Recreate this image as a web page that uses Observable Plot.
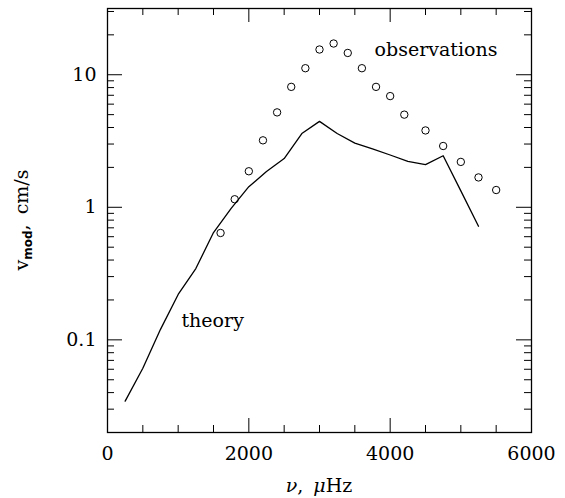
<!DOCTYPE html>
<html><head><meta charset="utf-8">
<script src="https://cdn.jsdelivr.net/npm/d3@7"></script>
<script src="https://cdn.jsdelivr.net/npm/@observablehq/plot@0.6"></script>
<style>body{margin:0;background:#fff} #chart svg{display:block}</style>
</head><body><div id="chart"></div>
<script>
// Observations (open circles)
const obsNu = [1600,1800,2000,2200,2400,2600,2800,3000,3200,3400,3600,3800,4000,4200,4500,4750,5000,5250,5500];
const obsV  = [0.64,1.15,1.87,3.2,5.2,8.1,11.2,15.5,17.2,14.6,11.2,8.1,6.9,5.0,3.8,2.9,2.2,1.68,1.35];
// Theory (solid line)
const thNu = [250,500,750,1000,1250,1500,1750,2000,2250,2500,2750,3000,3250,3500,3750,4000,4250,4500,4750,5000,5250];
const thV  = [0.0345,0.061,0.12,0.22,0.345,0.645,0.98,1.43,1.86,2.33,3.6,4.45,3.6,3.05,2.76,2.48,2.22,2.1,2.45,1.33,0.72];
// Ticks
const xMajor = [0,2000,4000,6000];
const xMinor = [500,1000,1500,2500,3000,3500,4500,5000,5500];
const yMajor = [0.1,1,10];
const yMinor = [0.02,0.03,0.04,0.05,0.06,0.07,0.08,0.09,0.2,0.3,0.4,0.5,0.6,0.7,0.8,0.9,2,3,4,5,6,7,8,9,20,30];
// Annotations
const notes = [
  {nu: 3780, v: 15.3, label: "observations"},
  {nu: 1047, v: 0.139, label: "theory"}
];

const obs = obsNu.map((n,i)=>({nu:n, v:obsV[i]}));
const th = thNu.map((n,i)=>({nu:n, v:thV[i]}));

const W = 565, Hh = 498, mL = 107, mR = 34, mT = 8, mB = 66;
const fw = W - mL - mR, fh = Hh - mT - mB;
const font = "DejaVu Serif";
const ink = "#000";

const plot = Plot.plot({
  width: W, height: Hh,
  marginLeft: mL, marginRight: mR, marginTop: mT, marginBottom: mB,
  style: {fontFamily: font, fontSize: "19px", background: "#fff", color: ink},
  x: {domain: [0, 6000]},
  y: {type: "log", domain: [0.02, 31.6]},
  marks: [
    Plot.axisX(xMajor, {tickSize: 0, tickPadding: 14, fontSize: 19, label: null, tickFormat: d => String(d)}),
    Plot.axisY(yMajor, {tickSize: 0, tickPadding: 11, fontSize: 19, label: null, tickFormat: d => String(d)}),
    // bottom & top ticks
    Plot.tickX(xMinor, {insetTop: fh - 7, stroke: ink}),
    Plot.tickX(xMajor, {insetTop: fh - 14, stroke: ink}),
    Plot.tickX(xMinor, {insetBottom: fh - 7, stroke: ink}),
    Plot.tickX(xMajor, {insetBottom: fh - 14, stroke: ink}),
    // left & right ticks
    Plot.tickY(yMinor, {insetRight: fw - 7, stroke: ink}),
    Plot.tickY(yMajor, {insetRight: fw - 15, stroke: ink}),
    Plot.tickY(yMinor, {insetLeft: fw - 7, stroke: ink}),
    Plot.tickY(yMajor, {insetLeft: fw - 15, stroke: ink}),
    Plot.frame({stroke: ink, strokeWidth: 1.3}),
    Plot.line(th, {x: "nu", y: "v", stroke: ink, strokeWidth: 1.3}),
    Plot.dot(obs, {x: "nu", y: "v", r: 3.7, stroke: ink, strokeWidth: 1, fill: "none"}),
    Plot.text(notes, {x: "nu", y: "v", text: "label", textAnchor: "start", fontSize: 19, fill: ink})
  ]
});

const svg = d3.select(plot);
// y-axis label: v_mod, cm/s
const yl = svg.append("text")
  .attr("transform", `translate(28,${mT + fh/2}) rotate(-90)`)
  .attr("text-anchor", "middle")
  .attr("fill", ink)
  .style("font-family", font)
  .style("font-size", "19px");
yl.append("tspan").text("v");
yl.append("tspan").attr("dy", 4).style("font-family", "DejaVu Sans").style("font-weight", "bold").style("font-size", "12px").text("mod");
yl.append("tspan").attr("dy", -4).text(",");
yl.append("tspan").attr("dx", 10).text("cm/s");

// x-axis label: ν, μHz
const xl = svg.append("text")
  .attr("x", mL + fw/2)
  .attr("y", 492)
  .attr("text-anchor", "middle")
  .attr("fill", ink)
  .style("font-family", font)
  .style("font-size", "19px");
xl.append("tspan").style("font-style", "italic").text("ν");
xl.append("tspan").text(",");
xl.append("tspan").attr("dx", 10).style("font-style", "italic").text("μ");
xl.append("tspan").text("Hz");

document.getElementById("chart").appendChild(plot);
</script>
</body></html>
